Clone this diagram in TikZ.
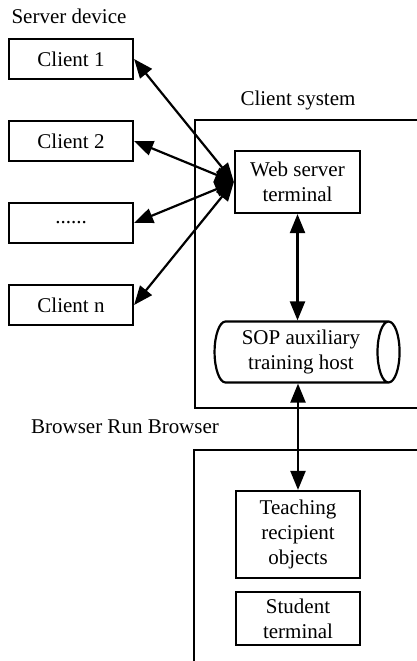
\documentclass[tikz,border=0pt]{standalone}
\usepackage{fontspec}
\setmainfont{Liberation Serif}
\usetikzlibrary{arrows.meta,shapes.geometric}
\begin{document}
\begin{tikzpicture}[x=1pt,y=-1pt,
  font=\fontsize{21}{25}\selectfont,
  box/.style={draw,line width=2.2pt,minimum width=124pt,align=center,inner sep=0pt},
  lbl/.style={inner sep=0pt},
  frame/.style={line width=2.2pt},
  link/.style={line width=2.2pt,{Triangle[length=19pt,width=15pt]}-{Triangle[length=19pt,width=15pt]}}]
\useasboundingbox (0,0) rectangle (417,661);
% frames
\draw[frame] (417,120) -- (195,120) -- (195,408) -- (417,408);
\draw[frame] (417,450) -- (194,450) -- (194,661);
% labels
\node[lbl] (sd) at (69,16) {Server device};
\node[lbl] (cs) at (298,100) {Client system};
\node[lbl] (br) at (125,427) {Browser Run Browser};
% clients
\node[box,minimum height=40pt] (c1) at (71,59) {Client 1};
\node[box,minimum height=40pt] (c2) at (71,141) {Client 2};
\node[box,minimum height=40pt] (c3) at (71,223) {......};
\node[box,minimum height=40pt] (c4) at (71,305) {Client n};
% client system
\node[box,minimum width=125pt,minimum height=62pt] (web) at (297.5,182) {Web server\\terminal};
\node[draw,cylinder,shape border rotate=0,aspect=0.5,line width=2.2pt,
  minimum width=61pt,minimum height=185pt,align=center,inner sep=0pt] (sop) at (301,352) {SOP auxiliary\\training host};
% browser
\node[box,minimum height=87pt] (teach) at (298,534.5) {Teaching\\recipient\\objects};
\node[box,minimum height=53pt] (stud) at (298,618.5) {Student\\terminal};
% connectors
\draw[link] (web.west) -- (c1.east);
\draw[link] (web.west) -- (c2.east);
\draw[link] (web.west) -- (c3.east);
\draw[link] (web.west) -- (c4.east);
\draw[link] (web.south) -- (web.south |- sop.north);
\draw[link] (teach.north |- sop.south) -- (teach.north);
\end{tikzpicture}
\end{document}
